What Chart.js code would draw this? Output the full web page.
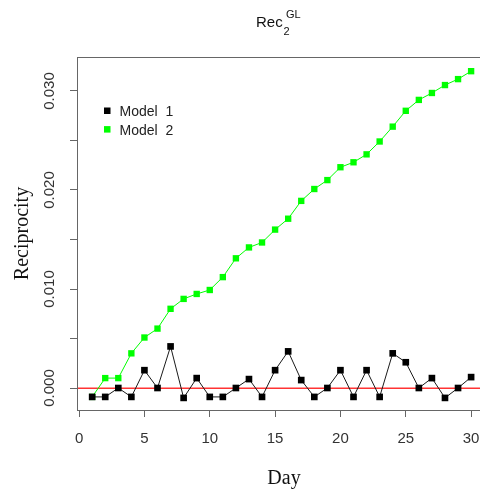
<!DOCTYPE html>
<html>
<head>
<meta charset="utf-8">
<title>Rec2 GL - Reciprocity</title>
<script src="https://cdn.jsdelivr.net/npm/chart.js@4.4.1/dist/chart.umd.min.js"></script>
<style>
  html, body { margin: 0; padding: 0; background: #fff; }
  #wrap { width: 480px; height: 491px; }
</style>
</head>
<body>
<div id="wrap"><canvas id="rec-chart" width="480" height="491"></canvas></div>
<script>
  "use strict";

  /*---------------------------------------------------
      Data
    ---------------------------------------------------*/

  const days = [1, 2, 3, 4, 5, 6, 7, 8, 9, 10, 11, 12, 13, 14, 15,
    16, 17, 18, 19, 20, 21, 22, 23, 24, 25, 26, 27, 28, 29, 30];

  const model1 = [-0.0009, -0.0009, 0.0000, -0.0009, 0.0018, 0.0000, 0.0042, -0.0010, 0.0010, -0.0009,
    -0.0009, 0.0000, 0.0009, -0.0009, 0.0018, 0.0037, 0.0008, -0.0009, 0.0000, 0.0018,
    -0.0009, 0.0018, -0.0009, 0.0035, 0.0026, 0.0000, 0.0010, -0.0010, 0.0000, 0.0011];

  const model2 = [-0.0009, 0.0010, 0.0010, 0.0035, 0.0051, 0.0060, 0.0080, 0.0090, 0.0095, 0.0099,
    0.0112, 0.0131, 0.0142, 0.0147, 0.0160, 0.0171, 0.0189, 0.0201, 0.0210, 0.0223,
    0.0228, 0.0236, 0.0249, 0.0264, 0.0280, 0.0291, 0.0298, 0.0306, 0.0312, 0.0320];

  const seriesNames = ["Model  1", "Model  2"];
  const seriesColors = ["#000000", "#00ff00"];

  const xTicks = [0, 5, 10, 15, 20, 25, 30];
  const yTicks = [0, 0.005, 0.01, 0.015, 0.02, 0.025, 0.03];
  const yTickLabels = [0, 0.01, 0.02, 0.03];

  const refLine = 0;

  const titleMain = "Rec";
  const titleSub = "2";
  const titleSup = "GL";
  const xTitle = "Day";
  const yTitle = "Reciprocity";

  /*---------------------------------------------------
      Helpers
    ---------------------------------------------------*/

  const sans = "'Liberation Sans', Arial, sans-serif";
  const serif = "'Liberation Serif', 'Times New Roman', serif";
  const axisGray = "#666";

  Chart.defaults.font.family = sans;

  function toPoints(values) {
    return days.map((d, i) => ({ x: d, y: values[i] }));
  }

  // R-like extras: box top, red reference line, rotated y labels, titles, legend
  const rStylePlugin = {
    id: "rStyle",
    beforeDatasetsDraw(chart) {
      const { ctx, chartArea } = chart;
      const yScale = chart.scales.y;
      ctx.save();

      // top edge of the box
      ctx.strokeStyle = axisGray;
      ctx.lineWidth = 1;
      ctx.beginPath();
      ctx.moveTo(chartArea.left, chartArea.top + 0.5);
      ctx.lineTo(chartArea.right, chartArea.top + 0.5);
      ctx.stroke();

      // horizontal reference line
      const y0 = yScale.getPixelForValue(refLine) + 0.3;
      ctx.strokeStyle = "rgba(255, 0, 0, 0.8)";
      ctx.lineWidth = 1.4;
      ctx.beginPath();
      ctx.moveTo(chartArea.left + 1, y0);
      ctx.lineTo(chartArea.right, y0);
      ctx.stroke();
      ctx.restore();
    },
    afterDraw(chart) {
      const { ctx, chartArea } = chart;
      const yScale = chart.scales.y;
      ctx.save();

      // y tick labels, rotated like R's default
      ctx.fillStyle = "#333";
      ctx.font = "15px " + sans;
      ctx.textAlign = "center";
      ctx.textBaseline = "middle";
      yTickLabels.forEach((v) => {
        const py = yScale.getPixelForValue(v);
        ctx.save();
        ctx.translate(50, py);
        ctx.rotate(-Math.PI / 2);
        ctx.fillText(v.toFixed(3), 0, 0);
        ctx.restore();
      });

      // axis titles
      ctx.fillStyle = "#111";
      ctx.font = "20px " + serif;
      ctx.textBaseline = "alphabetic";
      ctx.fillText(xTitle, 284, 484);
      ctx.save();
      ctx.translate(28, (chartArea.top + chartArea.bottom) / 2);
      ctx.rotate(-Math.PI / 2);
      ctx.fillText(yTitle, 0, 0);
      ctx.restore();

      // main title with subscript / superscript
      ctx.fillStyle = "#111";
      ctx.textAlign = "left";
      ctx.font = "15px " + sans;
      ctx.fillText(titleMain, 256, 26.5);
      ctx.font = "11px " + sans;
      ctx.fillText(titleSub, 283.5, 34.5);
      ctx.fillText(titleSup, 286, 18);

      // legend
      ctx.font = "14px " + sans;
      seriesNames.forEach((name, i) => {
        const cy = 110.7 + i * 18.6;
        ctx.fillStyle = seriesColors[i];
        ctx.fillRect(104, cy - 3.2, 6.5, 6.5);
        ctx.fillStyle = "#222";
        ctx.fillText(name, 119.5, cy + 5.5);
      });
      ctx.restore();
    },
  };

  /*---------------------------------------------------
      Chart
    ---------------------------------------------------*/

  const ctx = document.getElementById("rec-chart");
  const recChart = new Chart(ctx, {
    type: "line",
    data: {
      datasets: [
        {
          label: seriesNames[0],
          data: toPoints(model1),
          borderColor: "#1a1a1a",
          borderWidth: 1,
          backgroundColor: seriesColors[0],
          pointBackgroundColor: seriesColors[0],
          pointStyle: "rect",
          pointRadius: 4.7,
          pointBorderWidth: 0,
          tension: 0,
        },
        {
          label: seriesNames[1],
          data: toPoints(model2),
          borderColor: seriesColors[1],
          borderWidth: 1,
          backgroundColor: seriesColors[1],
          pointBackgroundColor: seriesColors[1],
          pointStyle: "rect",
          pointRadius: 4.5,
          pointBorderWidth: 0,
          tension: 0,
        },
      ],
    },
    options: {
      responsive: false,
      animation: false,
      layout: { autoPadding: false, padding: { top: 57, left: 0, right: 0, bottom: 0 } },
      plugins: {
        legend: { display: false },
        title: { display: false },
        tooltip: { enabled: false },
      },
      scales: {
        x: {
          type: "linear",
          min: -0.16,
          max: 30.68,
          afterFit: (s) => {
            s.height = 81;
            s.paddingLeft = 0;
            s.paddingRight = 0;
          },
          afterBuildTicks: (s) => { s.ticks = xTicks.map((v) => ({ value: v })); },
          grid: { drawOnChartArea: false, drawTicks: true, tickLength: 7, color: axisGray },
          border: { color: axisGray, width: 1 },
          ticks: {
            color: "#333",
            font: { size: 15 },
            padding: 13,
            maxRotation: 0,
            autoSkip: false,
          },
        },
        y: {
          type: "linear",
          min: -0.002222,
          max: 0.033434,
          afterFit: (s) => {
            s.width = 77;
            s.paddingTop = 0;
            s.paddingBottom = 0;
          },
          afterBuildTicks: (s) => { s.ticks = yTicks.map((v) => ({ value: v })); },
          grid: { drawOnChartArea: false, drawTicks: true, tickLength: 7, color: axisGray },
          border: { color: axisGray, width: 1 },
          ticks: { display: false },
        },
      },
    },
    plugins: [rStylePlugin],
  });
</script>
</body>
</html>
